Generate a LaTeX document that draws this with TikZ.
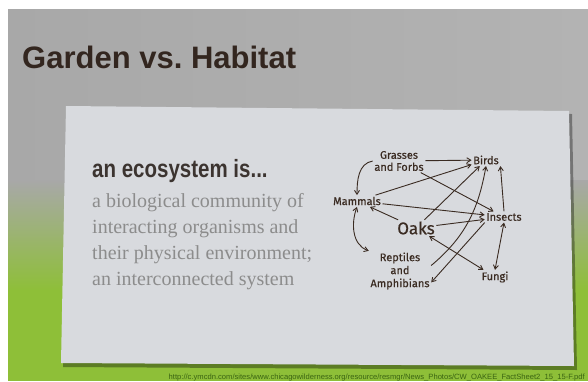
\documentclass[tikz,border=0pt]{standalone}
\usepackage{fontspec}
\setmainfont{Liberation Serif}
\setsansfont{Liberation Sans}
\newfontfamily\handfont[FakeBold=0.6]{Fira Sans}
\usetikzlibrary{arrows.meta}
\definecolor{scrgray}{HTML}{A8A8A8}
\definecolor{scrlight}{HTML}{B3B3B3}
\definecolor{scrgreen}{HTML}{8EBF38}
\definecolor{cardgray}{HTML}{D8DADE}
\definecolor{titleink}{HTML}{33261F}
\definecolor{headink}{HTML}{3C3430}
\definecolor{bodygray}{HTML}{8C8C8C}
\definecolor{penink}{HTML}{3A2B22}
\definecolor{urlgreen}{HTML}{3A6412}

\begin{document}
\begin{tikzpicture}[x=1pt,y=-1pt,
    creature/.style={font=\handfont\fontsize{11}{12}\selectfont, text=penink, align=center, inner sep=1.5pt},
    link/.style={draw=penink, line width=0.9pt, -{Straight Barb[length=4pt,width=5pt]}},
    both/.style={link, {Straight Barb[length=4pt,width=5pt]}-{Straight Barb[length=4pt,width=5pt]}}]
    \useasboundingbox (0,0) rectangle (588,381);
    \fill[white] (0,0) rectangle (588,381);
    % the screen behind the card
    \shade[left color=scrgray, right color=scrlight] (8,9) rectangle (588,181);
    \shade[top color=scrgray, bottom color=scrgreen] (8,180) rectangle (588,291);
    \fill[scrgreen] (8,290) rectangle (588,381);
    % the card
    \fill[black, opacity=0.35] (68,109) -- (572,114) -- (577,370) -- (63,367) -- cycle;
    \fill[cardgray] (66,106) -- (569,111) -- (574,366) -- (61,363) -- cycle;

    \node[anchor=base west, inner sep=0, text=titleink, font=\sffamily\bfseries\fontsize{31}{31}\selectfont] (title) at (22,68) {Garden vs.\ Habitat};
    \node[anchor=base west, inner sep=0, text=headink, font=\sffamily\bfseries\fontsize{25}{25}\selectfont] (heading) at (92,177) {\scalebox{0.82}[1]{an ecosystem is...}};
    \node[anchor=north west, inner sep=0, align=left, text=bodygray, font=\fontsize{20}{26}\selectfont] (defn) at (92,193)
      {a biological community of\\interacting organisms and\\their physical environment;\\an interconnected system};

    % the food web
    \node[creature] (grasses) at (399,161) {Grasses\\and Forbs};
    \node[creature] (birds) at (486,160) {Birds};
    \node[creature] (mammals) at (357,201) {Mammals};
    \node[creature, font=\handfont\fontsize{17}{17}\selectfont] (oaks) at (416,228) {Oaks};
    \node[creature] (insects) at (504,217) {Insects};
    \node[creature, font=\handfont\fontsize{11}{13}\selectfont] (reptiles) at (400,271) {Reptiles\\and\\Amphibians};
    \node[creature] (fungi) at (495,277) {Fungi};

    \draw[link] (grasses) -- (birds);
    \draw[link] (grasses.west) to[out=190,in=90] (mammals.north);
    \draw[link] (grasses) -- (insects);
    \draw[link] (mammals) -- (birds);
    \draw[link] (mammals) -- (insects);
    \draw[link] (oaks) -- (mammals);
    \draw[link] (oaks) -- (birds);
    \draw[link] (oaks) -- (insects);
    \draw[both] (oaks) -- (fungi);
    \draw[both] (mammals.south) to[out=-110,in=160] (reptiles.north west);
    \draw[link] (reptiles.10) to[out=40,in=-100] (birds.south);
    \draw[link] (insects.south west) -- (reptiles.-20);
    \draw[both] (insects.south) -- (fungi.north);
    \draw[link] (insects.north) -- (birds.south east);

    \node[anchor=base east, inner sep=0, text=urlgreen, font=\sffamily\fontsize{7.6}{7.6}\selectfont] (source) at (585,379)
      {http://c.ymcdn.com/sites/www.chicagowilderness.org/resource/resmgr/News\_Photos/CW\_OAKEE\_FactSheet2\_15\_15-F.pdf};
\end{tikzpicture}
\end{document}
